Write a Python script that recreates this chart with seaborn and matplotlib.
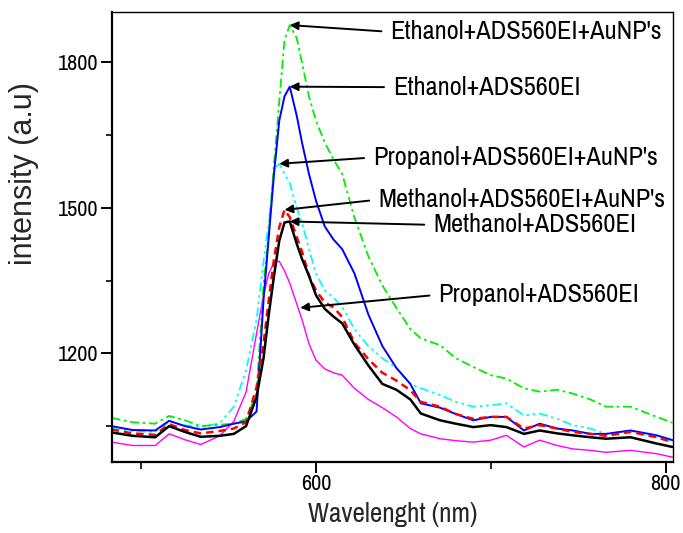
import numpy as np
import pandas as pd
import matplotlib
matplotlib.use("Agg")
import matplotlib.pyplot as plt
import seaborn as sns
from matplotlib.ticker import MultipleLocator

# ---------------- data ----------------
wavelength = [483, 495, 508, 516, 525, 534, 545, 553, 560, 566, 570, 573, 576, 579, 582,
              585, 589, 592, 596, 600, 605, 610, 615, 622, 630, 638, 646, 654, 660, 671,
              680, 690, 700, 709, 719, 728, 738, 747, 757, 766, 780, 795, 804]

ethanol_aunp = [1067, 1058, 1055, 1071, 1062, 1050, 1053, 1055, 1065, 1118, 1340, 1450, 1590, 1720, 1846,
                1877, 1850, 1800, 1730, 1680, 1635, 1600, 1570, 1480, 1400, 1340, 1294, 1250, 1231, 1217,
                1190, 1172, 1155, 1148, 1128, 1121, 1125, 1117, 1105, 1090, 1090, 1069, 1057]
ethanol = [1050, 1042, 1041, 1061, 1050, 1043, 1048, 1055, 1060, 1080, 1310, 1440, 1570, 1680, 1730,
           1750, 1690, 1635, 1570, 1515, 1462, 1435, 1415, 1365, 1280, 1215, 1170, 1137, 1097, 1088,
           1075, 1062, 1069, 1069, 1041, 1055, 1045, 1041, 1034, 1034, 1041, 1031, 1021]
propanol_aunp = [1045, 1040, 1038, 1059, 1052, 1048, 1056, 1090, 1165, 1269, 1390, 1470, 1580, 1591, 1570,
                 1551, 1500, 1470, 1415, 1365, 1330, 1315, 1296, 1250, 1215, 1190, 1170, 1137, 1128, 1114,
                 1100, 1090, 1093, 1097, 1072, 1076, 1065, 1052, 1045, 1034, 1041, 1027, 1017]
methanol_aunp = [1043, 1035, 1032, 1054, 1042, 1035, 1040, 1045, 1058, 1130, 1220, 1310, 1395, 1460, 1496,
                 1481, 1440, 1410, 1360, 1330, 1305, 1295, 1275, 1222, 1188, 1160, 1144, 1124, 1100, 1090,
                 1075, 1065, 1069, 1069, 1045, 1052, 1045, 1038, 1034, 1030, 1038, 1027, 1017]
methanol = [1037, 1030, 1027, 1050, 1038, 1028, 1030, 1034, 1050, 1110, 1190, 1280, 1360, 1432, 1470,
            1472, 1426, 1395, 1360, 1320, 1292, 1276, 1262, 1218, 1175, 1137, 1125, 1105, 1076, 1062,
            1055, 1048, 1052, 1048, 1034, 1041, 1035, 1031, 1027, 1024, 1027, 1014, 1007]
propanol = [1017, 1010, 1010, 1034, 1022, 1012, 1030, 1060, 1120, 1241, 1320, 1365, 1388, 1390, 1370,
            1345, 1302, 1270, 1220, 1186, 1168, 1160, 1155, 1128, 1105, 1088, 1069, 1045, 1034, 1024,
            1020, 1017, 1021, 1031, 1007, 1021, 1010, 1003, 1000, 996, 1000, 993, 986]

series_names = ["Ethanol+ADS560EI+AuNP's", "Ethanol+ADS560EI", "Propanol+ADS560EI+AuNP's",
                "Methanol+ADS560EI+AuNP's", "Methanol+ADS560EI", "Propanol+ADS560EI"]
series_values = [ethanol_aunp, ethanol, propanol_aunp, methanol_aunp, methanol, propanol]

x_ticks = [600, 800]
y_ticks = [1200, 1500, 1800]

# ---------------- styling ----------------
colors = ["#00ee00", "#0000ff", "#00ffff", "#ff0000", "#000000", "#ff00ff"]
styles = [(0, (5, 2, 1.5, 2)), "-", (0, (5, 2, 1.5, 2, 1.5, 2)), (0, (3, 2)), "-", "-"]
widths = [1.3, 1.4, 1.3, 1.8, 1.8, 1.0]
draw_order = [5, 2, 0, 1, 3, 4]

# annotation layout: text (left, centre) and arrow tip, data coordinates
text_pos = [(642.5, 1863), (644, 1749), (632.6, 1604), (635.5, 1517), (667, 1465), (670, 1321)]
tip_override = {5: (591, 1294)}

sns.set_style("ticks")
narrow = ["Archivo Narrow", "DejaVu Sans"]
regular = ["Liberation Sans", "DejaVu Sans"]
plt.rcParams["font.family"] = narrow

df = pd.DataFrame({
    "wavelength": np.tile(wavelength, len(series_names)),
    "intensity": np.concatenate(series_values),
    "series": np.repeat(series_names, len(wavelength)),
})

fig = plt.figure(figsize=(6.83, 5.33), dpi=100)
ax = fig.add_axes([112 / 683, 1 - 462 / 533, 560.5 / 683, 450 / 533])

for i in draw_order:
    sub = df[df["series"] == series_names[i]]
    sns.lineplot(data=sub, x="wavelength", y="intensity", ax=ax, color=colors[i],
                 linewidth=widths[i], linestyle=styles[i], legend=False)

ax.set_xlim(483.3, 804)
ax.set_ylim(976, 1904)
ax.set_xticks(x_ticks)
ax.set_yticks(y_ticks)
ax.xaxis.set_minor_locator(MultipleLocator(100))
ax.yaxis.set_minor_locator(MultipleLocator(150))
ax.tick_params(axis="both", which="major", direction="out", width=1.4, colors="black",
               labelsize=16)
ax.tick_params(axis="x", which="major", length=8, pad=1)
ax.tick_params(axis="y", which="major", length=8, pad=2)
ax.tick_params(axis="x", which="minor", length=5, width=1.4)
ax.tick_params(axis="y", which="minor", length=4, width=1.4)

for side in ["left", "bottom"]:
    ax.spines[side].set_linewidth(1.6)
for side in ["top", "right"]:
    ax.spines[side].set_linewidth(1.0)
for s in ax.spines.values():
    s.set_color("black")

ax.set_xlabel("Wavelenght (nm)", fontsize=19.5, family=narrow)
ax.xaxis.set_label_coords(0.5, -0.088)
ax.set_ylabel("intensity (a.u)", fontsize=22, family=regular)
ax.yaxis.set_label_coords(-0.13, 0.642)

for i, name in enumerate(series_names):
    vals = series_values[i]
    if i in tip_override:
        tip = tip_override[i]
    else:
        k = int(np.argmax(vals))
        tip = (wavelength[k], vals[k])
    ax.annotate(name, xy=tip, xytext=text_pos[i], textcoords="data",
                ha="left", va="center", fontsize=19, family=narrow, color="black",
                arrowprops=dict(arrowstyle="-|>", color="black", lw=1.4,
                                mutation_scale=12, shrinkA=4, shrinkB=0,
                                relpos=(0, 0.5)))

fig.savefig("out.png", dpi=100, facecolor="white")
